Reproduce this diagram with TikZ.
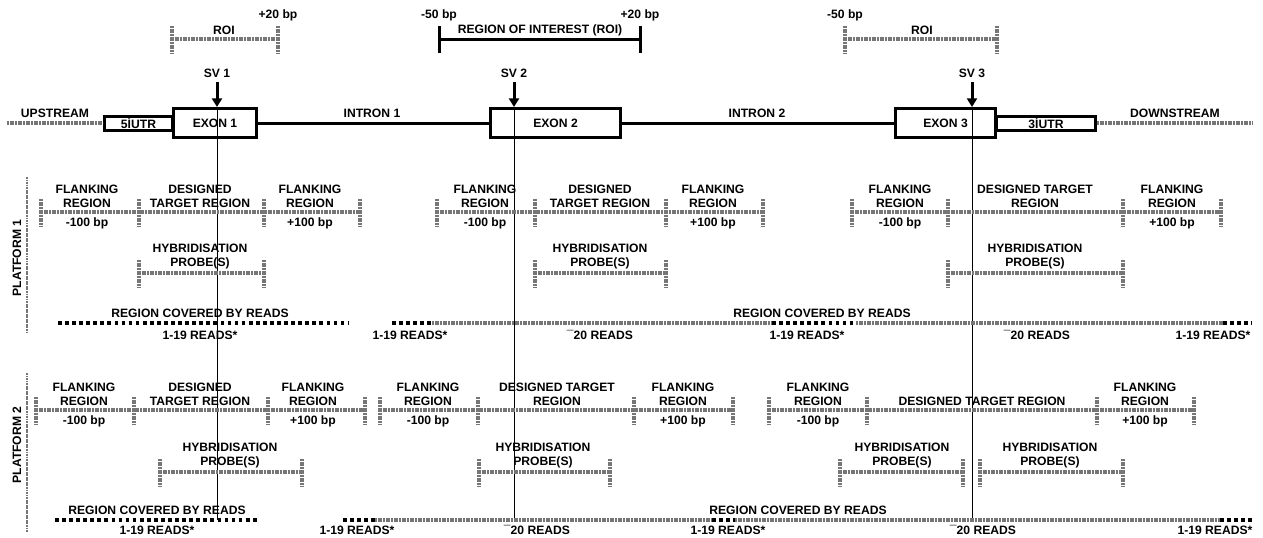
\documentclass[tikz,border=0pt]{standalone}
\usepackage{fontspec}
\setmainfont{Liberation Sans}
\usetikzlibrary{arrows.meta}
\definecolor{gcol}{RGB}{118,118,118}
\tikzset{
 lbl/.style={font=\bfseries\fontsize{9.1}{10.5}\selectfont, align=center, inner sep=0pt},
 gbar/.style={draw=gcol, line width=2.4pt, dash pattern=on 1.6pt off 0.4pt},
 bdots/.style={draw=black, line width=2.8pt, dash pattern=on 2.8pt off 2.5pt},
 thick3/.style={draw=black, line width=2.25pt},
 genebox/.style={draw, line width=2.25pt, inner sep=0pt, lbl},
 svline/.style={line width=0.75pt},
 svarrow/.style={line width=2.25pt, -{Triangle[width=7.5pt,length=6.5pt]}},
 platline/.style={draw=gcol, line width=1.5pt, dash pattern=on 1.4pt off 0.5pt},
}
% tick: optional style, x, y
\newcommand\tk[3][gbar]{\draw[#1] (#2,{#3-13}) -- (#2,{#3+14});}
% flanking row: name, x1,x2,x3,x4, y
\newcommand\flankrow[6]{%
 \coordinate (#1a) at (#2,#6); \coordinate (#1b) at (#3,#6);
 \coordinate (#1c) at (#4,#6); \coordinate (#1d) at (#5,#6);
 \draw[gbar] (#1a) -- (#1b) -- (#1c) -- (#1d);
 \tk{#2}{#6}\tk{#3}{#6}\tk{#4}{#6}\tk{#5}{#6}}
% probe bar: name, x1, x2, y
\newcommand\probe[4]{%
 \coordinate (#1a) at (#2,#4); \coordinate (#1b) at (#3,#4);
 \draw[gbar] (#1a) -- (#1b); \tk{#2}{#4}\tk{#3}{#4}}
\begin{document}
\begin{tikzpicture}[x=0.75pt,y=-0.75pt]
\useasboundingbox (0,0) rectangle (1263,537);

% ---------- ROIs ----------
\probe{roi1}{172}{278}{39}
\node[lbl] (roi1t) at (224,30) {ROI};
\node[lbl] (roi1p) at (278,15) {+20 bp};

\coordinate (roi2a) at (439,39); \coordinate (roi2b) at (640,39);
\draw[thick3] (roi2a) -- (roi2b);
\tk[thick3]{439}{39}\tk[thick3]{640}{39}
\node[lbl] (roi2m) at (439,15) {-50 bp};
\node[lbl] (roi2p) at (640,15) {+20 bp};
\node[lbl] (roi2t) at (540,30) {REGION OF INTEREST (ROI)};

\probe{roi3}{845}{997}{39}
\node[lbl] (roi3m) at (845,15) {-50 bp};
\node[lbl] (roi3t) at (922,30) {ROI};

% ---------- gene ----------
\node[genebox, minimum width=51pt, minimum height=10.5pt] (utr5) at (138.5,123) {5ÍUTR};
\node[genebox, minimum width=74.25pt, minimum height=10.5pt] (utr3) at (1046,123) {3ÍUTR};
\node[genebox, minimum width=62.25pt, minimum height=21.75pt] (ex1) at (215,123) {EXON 1};
\node[genebox, minimum width=97.5pt, minimum height=21.75pt] (ex2) at (555.5,123) {EXON 2};
\node[genebox, minimum width=75pt, minimum height=21.75pt] (ex3) at (945.5,123) {EXON 3};
\draw[thick3] (ex1.east) -- (ex2.west);
\draw[thick3] (ex2.east) -- (ex3.west);
\coordinate (up) at (7,123); \coordinate (dn) at (1253,123);
\draw[gbar] (up) -- (utr5.west);
\draw[gbar] (utr3.east) -- (dn);
\node[lbl] (upt) at (55,113) {UPSTREAM};
\node[lbl] (dnt) at (1175,113) {DOWNSTREAM};
\node[lbl] (in1) at (372,113) {INTRON 1};
\node[lbl] (in2) at (757,113) {INTRON 2};

% ---------- SVs ----------
\foreach \n/\x in {1/217,2/514,3/972}{
 \node[lbl] (sv\n) at (\x,73) {SV \n};
 \coordinate (sv\n t) at (\x,82);
 \coordinate (sv\n h) at (\x,107);
 \coordinate (sv\n e) at (\x,520);
 \draw[svarrow] (sv\n t) -- (sv\n h);
 \draw[svline] (sv\n h) -- (sv\n e);
}

% ---------- platform labels ----------
\coordinate (pl1a) at (27,177); \coordinate (pl1b) at (27,334);
\draw[platline] (pl1a) -- (pl1b);
\node[lbl, rotate=90] (pl1) at (17,258) {PLATFORM 1};
\coordinate (pl2a) at (27,373); \coordinate (pl2b) at (27,532);
\draw[platline] (pl2a) -- (pl2b);
\node[lbl, rotate=90] (pl2) at (17,445) {PLATFORM 2};

% ---------- Platform 1: flanking rows ----------
\flankrow{fa}{41}{139}{264}{360}{212}
\node[lbl] (fa1) at (87,196) {FLANKING\\REGION};
\node[lbl] (fa1b) at (87,223) {-100 bp};
\node[lbl] (fa2) at (200,196) {DESIGNED\\TARGET REGION};
\node[lbl] (fa3) at (310,196) {FLANKING\\REGION};
\node[lbl] (fa3b) at (310,223) {+100 bp};

\flankrow{fb}{437}{535}{666}{763}{212}
\node[lbl] (fb1) at (485,196) {FLANKING\\REGION};
\node[lbl] (fb1b) at (485,223) {-100 bp};
\node[lbl] (fb2) at (600,196) {DESIGNED\\TARGET REGION};
\node[lbl] (fb3) at (713,196) {FLANKING\\REGION};
\node[lbl] (fb3b) at (713,223) {+100 bp};

\flankrow{fc}{852}{948}{1123}{1221}{212}
\node[lbl] (fc1) at (900,196) {FLANKING\\REGION};
\node[lbl] (fc1b) at (900,223) {-100 bp};
\node[lbl] (fc2) at (1035,196) {DESIGNED TARGET\\REGION};
\node[lbl] (fc3) at (1172,196) {FLANKING\\REGION};
\node[lbl] (fc3b) at (1172,223) {+100 bp};

% probes P1
\probe{pa}{139}{264}{273}
\node[lbl] (pat) at (200,257) {HYBRIDISATION\\PROBE(S)};
\probe{pb}{535}{666}{273}
\node[lbl] (pbt) at (600,257) {HYBRIDISATION\\PROBE(S)};
\probe{pc}{948}{1123}{273}
\node[lbl] (pct) at (1035,257) {HYBRIDISATION\\PROBE(S)};

% reads P1
\coordinate (ra1) at (58,323); \coordinate (ra2) at (348,323);
\draw[bdots] (ra1) -- (ra2);
\node[lbl] (rat) at (200,313) {REGION COVERED BY READS};
\node[lbl] (rab) at (200,335) {1-19 READS*};

\coordinate (rb1) at (392,323); \coordinate (rb2) at (432,323);
\coordinate (rb3) at (772,323); \coordinate (rb4) at (856,323);
\coordinate (rb5) at (1223,323); \coordinate (rb6) at (1252,323);
\draw[bdots] (rb1) -- (rb2);
\draw[gbar] (rb2) -- (rb3);
\draw[bdots] (rb3) -- (rb4);
\draw[gbar] (rb4) -- (rb5);
\draw[bdots] (rb5) -- (rb6);
\node[lbl] (rbl1) at (410,335) {1-19 READS*};
\node[lbl] (rbl2) at (600,335) {¯20 READS};
\node[lbl] (rbt) at (822,313) {REGION COVERED BY READS};
\node[lbl] (rbl3) at (807,335) {1-19 READS*};
\node[lbl] (rbl4) at (1037,335) {¯20 READS};
\node[lbl] (rbl5) at (1213,335) {1-19 READS*};

% ---------- Platform 2: flanking rows ----------
\flankrow{ga}{36}{134}{268}{365}{410}
\node[lbl] (ga1) at (84,394) {FLANKING\\REGION};
\node[lbl] (ga1b) at (84,421) {-100 bp};
\node[lbl] (ga2) at (200,394) {DESIGNED\\TARGET REGION};
\node[lbl] (ga3) at (313,394) {FLANKING\\REGION};
\node[lbl] (ga3b) at (313,421) {+100 bp};

\flankrow{gb}{380}{478}{634}{733}{410}
\node[lbl] (gb1) at (428,394) {FLANKING\\REGION};
\node[lbl] (gb1b) at (428,421) {-100 bp};
\node[lbl] (gb2) at (557,394) {DESIGNED TARGET\\REGION};
\node[lbl] (gb3) at (683,394) {FLANKING\\REGION};
\node[lbl] (gb3b) at (683,421) {+100 bp};

\flankrow{gc}{769}{867}{1097}{1194}{410}
\node[lbl] (gc1) at (818,394) {FLANKING\\REGION};
\node[lbl] (gc1b) at (818,421) {-100 bp};
\node[lbl] (gc2) at (982,401) {DESIGNED TARGET REGION};
\node[lbl] (gc3) at (1145,394) {FLANKING\\REGION};
\node[lbl] (gc3b) at (1145,421) {+100 bp};

% probes P2
\probe{qa}{160}{302}{472}
\node[lbl] (qat) at (230,456) {HYBRIDISATION\\PROBE(S)};
\probe{qb}{479}{610}{472}
\node[lbl] (qbt) at (543,456) {HYBRIDISATION\\PROBE(S)};
\probe{qc}{840}{963}{472}
\node[lbl] (qct) at (902,456) {HYBRIDISATION\\PROBE(S)};
\probe{qd}{980}{1123}{472}
\node[lbl] (qdt) at (1050,456) {HYBRIDISATION\\PROBE(S)};

% reads P2
\coordinate (sa1) at (55,520); \coordinate (sa2) at (258,520);
\draw[bdots] (sa1) -- (sa2);
\node[lbl] (sat) at (157,510) {REGION COVERED BY READS};
\node[lbl] (sab) at (157,530) {1-19 READS*};

\coordinate (sb1) at (343,520); \coordinate (sb2) at (375,520);
\coordinate (sb3) at (712,520); \coordinate (sb4) at (735,520);
\coordinate (sb5) at (1220,520); \coordinate (sb6) at (1252,520);
\draw[bdots] (sb1) -- (sb2);
\draw[gbar] (sb2) -- (sb3);
\draw[bdots] (sb3) -- (sb4);
\draw[gbar] (sb4) -- (sb5);
\draw[bdots] (sb5) -- (sb6);
\node[lbl] (sbl1) at (357,530) {1-19 READS*};
\node[lbl] (sbl2) at (537,530) {¯20 READS};
\node[lbl] (sbt) at (798,510) {REGION COVERED BY READS};
\node[lbl] (sbl3) at (728,530) {1-19 READS*};
\node[lbl] (sbl4) at (983,530) {¯20 READS};
\node[lbl] (sbl5) at (1215,530) {1-19 READS*};
\end{tikzpicture}
\end{document}
